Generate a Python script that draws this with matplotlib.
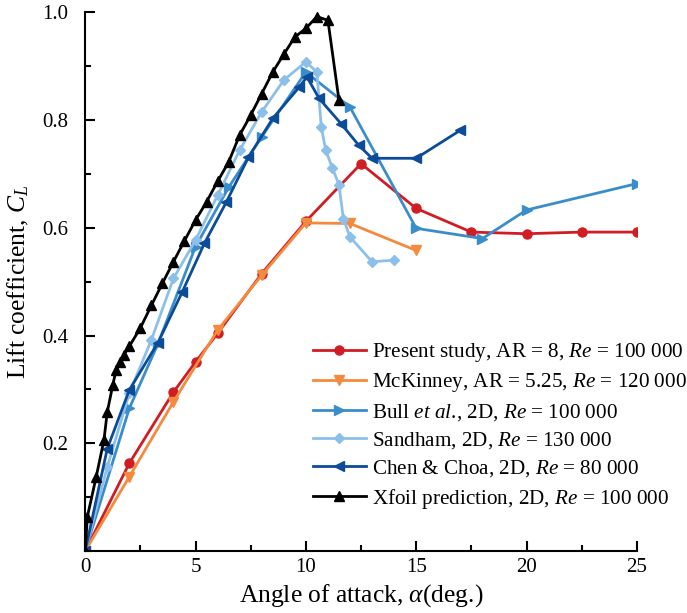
import matplotlib
matplotlib.use("Agg")
import matplotlib.pyplot as plt
from matplotlib.ticker import MultipleLocator

plt.rcParams['font.family'] = ['Liberation Serif', 'DejaVu Serif']
plt.rcParams['mathtext.fontset'] = 'custom'
plt.rcParams['mathtext.rm'] = 'Liberation Serif'
plt.rcParams['mathtext.it'] = 'Liberation Serif:italic'

# Present study, AR = 8
present_a = [0, 2, 4, 5, 6, 8, 10, 12.5, 15, 17.5, 20, 22.5, 25]
present_cl = [0, 0.163, 0.295, 0.351, 0.404, 0.515, 0.612, 0.719, 0.636, 0.592, 0.589, 0.592, 0.592]

# McKinney, AR = 5.25
mck_a = [0, 2, 4, 6, 8, 10, 12, 15]
mck_cl = [0, 0.138, 0.277, 0.41, 0.512, 0.609, 0.608, 0.558]

# Bull et al., 2D
bull_a = [0, 2, 3.3, 5, 6.5, 8, 10, 12, 15, 18, 20, 25]
bull_cl = [0, 0.265, 0.385, 0.565, 0.675, 0.769, 0.889, 0.824, 0.599, 0.580, 0.633, 0.682]

# Sandham, 2D
sand_a = [0, 1, 2, 3, 4, 5, 6, 7, 8, 9, 10, 10.5, 10.7, 10.9, 11.2, 11.5, 11.7, 12, 13, 14]
sand_cl = [0, 0.156, 0.293, 0.392, 0.506, 0.577, 0.660, 0.744, 0.815, 0.874, 0.908,
           0.889, 0.787, 0.744, 0.711, 0.680, 0.617, 0.583, 0.537, 0.540]

# Chen & Choa, 2D
chen_a = [0, 1, 2, 3.3, 4.4, 5.4, 6.4, 7.4, 8.5, 9.7, 10.05, 10.6, 11.6, 12.4, 13, 15, 17]
chen_cl = [0, 0.190, 0.299, 0.387, 0.481, 0.571, 0.648, 0.731, 0.803, 0.861, 0.880,
           0.840, 0.793, 0.753, 0.729, 0.729, 0.781]

# Xfoil prediction, 2D
xfoil_a = [0, 0.1, 0.5, 0.85, 1.0, 1.25, 1.4, 1.6, 1.75, 2.0, 2.5, 3.0, 3.5, 4.0, 4.5, 5.0,
           5.5, 6.0, 6.5, 7.0, 7.5, 8.0, 8.5, 9.0, 9.5, 10.0, 10.5, 11.0, 11.5]
xfoil_cl = [0, 0.064, 0.138, 0.206, 0.258, 0.308, 0.336, 0.351, 0.364, 0.380, 0.414, 0.456,
            0.497, 0.537, 0.576, 0.614, 0.648, 0.686, 0.722, 0.772, 0.809, 0.849, 0.889,
            0.922, 0.954, 0.970, 0.992, 0.985, 0.837]

series = [
    (present_a, present_cl, 'o', '#d01c22', r'Present study, AR = 8, $Re$ = 100 000'),
    (mck_a, mck_cl, 'v', '#f58a3e', r'McKinney, AR = 5.25, $Re$ = 120 000'),
    (bull_a, bull_cl, '>', '#3a8dcb', r'Bull $\mathit{et\ al.}\!$, 2D, $Re$ = 100 000'),
    (sand_a, sand_cl, 'D', '#8cc0ea', r'Sandham, 2D, $Re$ = 130 000'),
    (chen_a, chen_cl, '<', '#0c4b97', r'Chen & Choa, 2D, $Re$ = 80 000'),
    (xfoil_a, xfoil_cl, '^', '#000000', r'Xfoil prediction, 2D, $Re$ = 100 000'),
]

fig = plt.figure(figsize=(6.87, 6.13), dpi=100)
ax = fig.add_axes([0.124, 0.101, 0.803, 0.879])

for a, cl, mk, col, lab in series:
    ms = 5 if mk == 'D' else 6.5
    ax.plot(a, cl, marker=mk, color=col, lw=2, ms=ms, label=lab)

ax.set_xlim(0, 25)
ax.set_ylim(0, 1.0)
ax.xaxis.set_minor_locator(MultipleLocator(2.5))
ax.yaxis.set_minor_locator(MultipleLocator(0.1))
ax.set_yticks([0.2, 0.4, 0.6, 0.8, 1.0])
ax.set_yticklabels(['0.2', '0.4', '0.6', '0.8', '1.0'])
ax.set_xticks([0, 5, 10, 15, 20, 25])
ax.set_xticklabels(['0', '5', '10', '15', '20', '25'])
ax.tick_params(which='both', direction='in', width=1.5, labelsize=15)
ax.tick_params(axis='x', pad=5)
ax.tick_params(axis='y', pad=12)
ax.tick_params(which='major', length=7)
ax.tick_params(which='minor', length=4)
for s in ['top', 'right']:
    ax.spines[s].set_visible(False)
for s in ['left', 'bottom']:
    ax.spines[s].set_linewidth(1.5)

ax.set_xlabel(r'Angle of attack, $\alpha$(deg.)', fontsize=18.4, labelpad=4)
ax.set_ylabel(r'Lift coefficient, $C_L$', fontsize=18.4, labelpad=8)

ax.legend(loc='upper left', bbox_to_anchor=(0.413, 0.39), frameon=False, fontsize=15.2,
          handlelength=2.5, handletextpad=0.3, labelspacing=0.35, borderpad=0,
          borderaxespad=0)

fig.savefig('out.png', dpi=100)
